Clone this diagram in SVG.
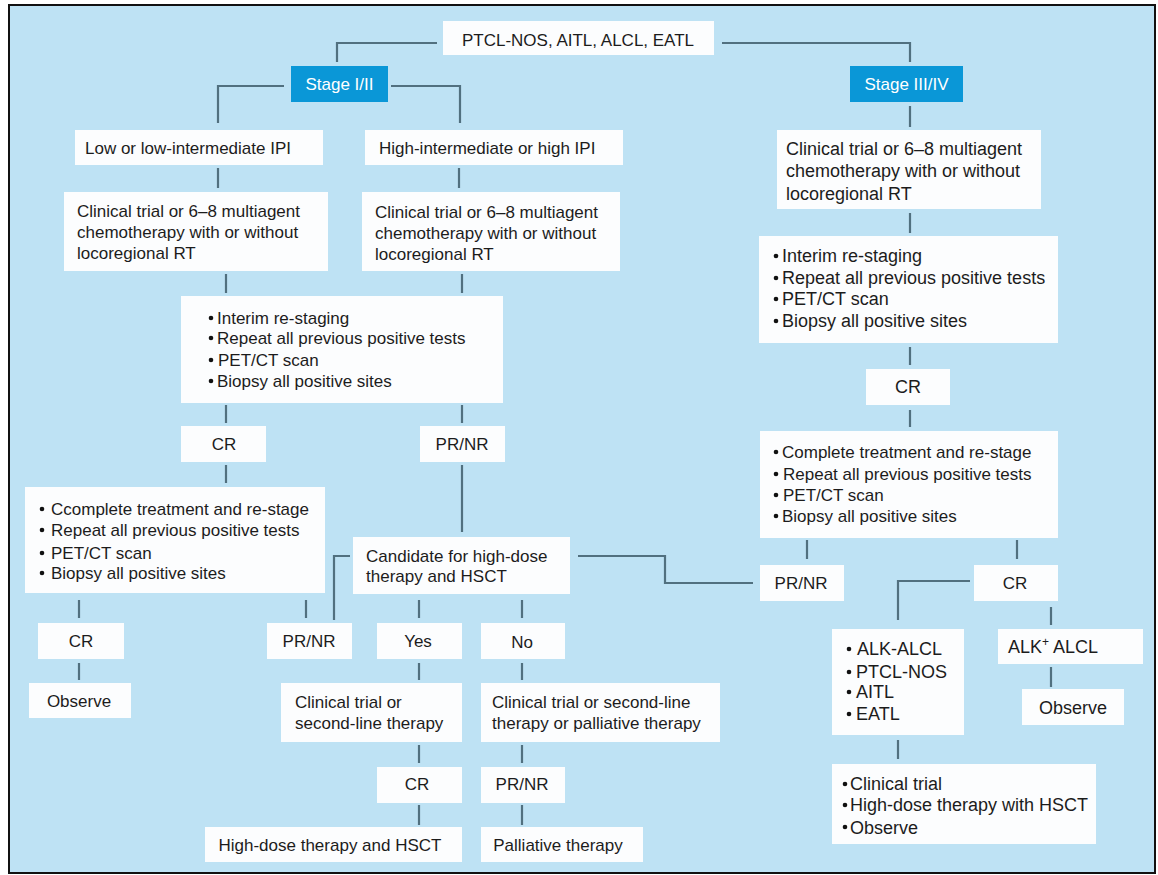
<svg xmlns="http://www.w3.org/2000/svg" width="1158" height="875" viewBox="0 0 1158 875">
<style>
.box{fill:#fcfdfe;}
.stage{fill:#0a97d7;}
.t{font-family:"Liberation Sans",Arial,sans-serif;font-size:17px;fill:#1c1c1c;}
.tl{font-family:"Liberation Sans",Arial,sans-serif;font-size:18px;fill:#1c1c1c;}
.tw{font-family:"Liberation Sans",Arial,sans-serif;font-size:17px;fill:#ffffff;}
.c{text-anchor:middle;}
.b{fill:#111;}
.con{fill:none;stroke:#51707f;stroke-width:2.2;}
</style>
<rect x="0" y="0" width="1158" height="875" fill="#ffffff"/>
<rect x="9" y="5" width="1146" height="868" fill="#bee2f4" stroke="#111" stroke-width="2"/>

<g id="connectors" class="con">
<path d="M437,43 H337 V62"/>
<path d="M722,43 H910 V62"/>
<path d="M284,86 H218 V123"/>
<path d="M391,86 H460 V123"/>
<path d="M910,106 V127"/>
<path d="M218,168 V188"/>
<path d="M459,168 V188"/>
<path d="M910,213 V233"/>
<path d="M226,274 V293"/>
<path d="M462,274 V293"/>
<path d="M910,347 V365"/>
<path d="M226,405 V423"/>
<path d="M462,405 V423"/>
<path d="M910,410 V427"/>
<path d="M226,465 V483"/>
<path d="M462,465 V532"/>
<path d="M350,556 H334 V620"/>
<path d="M578,556 H665 V583 H753"/>
<path d="M807,540 V559"/>
<path d="M1017,540 V559"/>
<path d="M970,581 H898 V620"/>
<path d="M1051,607 V625"/>
<path d="M1051,667 V687"/>
<path d="M898,740 V759"/>
<path d="M79,600 V618"/>
<path d="M306,600 V618"/>
<path d="M419,600 V618"/>
<path d="M522,600 V618"/>
<path d="M79,663 V680"/>
<path d="M419,663 V680"/>
<path d="M522,663 V680"/>
<path d="M419,745 V763"/>
<path d="M522,745 V763"/>
<path d="M419,805 V825"/>
<path d="M522,805 V825"/>
</g>

<g id="root"><rect class="box" x="443" y="21" width="271" height="34"/><text class="t c" x="578" y="46">PTCL-NOS, AITL, ALCL, EATL</text></g>
<g id="stage12"><rect class="stage" x="291" y="66" width="97" height="36"/><text class="tw c" x="339.5" y="90">Stage I/II</text></g>
<g id="stage34"><rect class="stage" x="850" y="66" width="113" height="36"/><text class="tw c" x="906.5" y="90">Stage III/IV</text></g>
<g id="lowipi"><rect class="box" x="75" y="130" width="248" height="35"/><text class="t" x="85" y="154">Low or low-intermediate IPI</text></g>
<g id="highipi"><rect class="box" x="365" y="130" width="258" height="35"/><text class="t" x="379" y="154">High-intermediate or high IPI</text></g>
<g id="chemoL"><rect class="box" x="64" y="192" width="264" height="79"/><text class="t" x="77" y="217">Clinical trial or 6–8 multiagent</text><text class="t" x="77" y="238">chemotherapy with or without</text><text class="t" x="77" y="259">locoregional RT</text></g>
<g id="chemoM"><rect class="box" x="362" y="192" width="258" height="79"/><text class="t" x="375" y="218">Clinical trial or 6–8 multiagent</text><text class="t" x="375" y="239">chemotherapy with or without</text><text class="t" x="375" y="260">locoregional RT</text></g>
<g id="chemoR"><rect class="box" x="777" y="130" width="264" height="79"/><text class="tl" x="786" y="155">Clinical trial or 6–8 multiagent</text><text class="tl" x="786" y="177">chemotherapy with or without</text><text class="tl" x="786" y="200">locoregional RT</text></g>
<g id="interimR"><rect class="box" x="759" y="236" width="299" height="107"/>
<circle class="b" cx="776" cy="256" r="2.3"/><circle class="b" cx="776" cy="278" r="2.3"/><circle class="b" cx="776" cy="299" r="2.3"/><circle class="b" cx="776" cy="321" r="2.3"/>
<text class="tl" x="782" y="262">Interim re-staging</text><text class="tl" x="782" y="284">Repeat all previous positive tests</text><text class="tl" x="782" y="305">PET/CT scan</text><text class="tl" x="782" y="327">Biopsy all positive sites</text></g>
<g id="interimM"><rect class="box" x="181" y="296" width="322" height="107"/>
<circle class="b" cx="211" cy="318" r="2.3"/><circle class="b" cx="211" cy="338" r="2.3"/><circle class="b" cx="211" cy="360" r="2.3"/><circle class="b" cx="211" cy="381" r="2.3"/>
<text class="t" x="217" y="324">Interim re-staging</text><text class="t" x="217" y="344">Repeat all previous positive tests</text><text class="t" x="218" y="366">PET/CT scan</text><text class="t" x="217" y="387">Biopsy all positive sites</text></g>
<g id="crL"><rect class="box" x="181" y="426" width="85" height="36"/><text class="t c" x="224" y="450">CR</text></g>
<g id="prnrL"><rect class="box" x="420" y="426" width="85" height="36"/><text class="t c" x="462" y="450">PR/NR</text></g>
<g id="crR1"><rect class="box" x="866" y="369" width="84" height="36"/><text class="tl c" x="908" y="393">CR</text></g>
<g id="completeR"><rect class="box" x="760" y="431" width="298" height="107"/>
<circle class="b" cx="776" cy="452" r="2.3"/><circle class="b" cx="776" cy="474" r="2.3"/><circle class="b" cx="776" cy="495" r="2.3"/><circle class="b" cx="776" cy="516" r="2.3"/>
<text class="t" x="782" y="458">Complete treatment and re-stage</text><text class="t" x="783" y="480">Repeat all previous positive tests</text><text class="t" x="783" y="501">PET/CT scan</text><text class="t" x="782" y="522">Biopsy all positive sites</text></g>
<g id="ccompleteL"><rect class="box" x="25" y="487" width="300" height="106"/>
<circle class="b" cx="42" cy="509" r="2.3"/><circle class="b" cx="42" cy="530" r="2.3"/><circle class="b" cx="42" cy="553" r="2.3"/><circle class="b" cx="42" cy="573" r="2.3"/>
<text class="t" x="51" y="515">Ccomplete treatment and re-stage</text><text class="t" x="51" y="536">Repeat all previous positive tests</text><text class="t" x="51" y="559">PET/CT scan</text><text class="t" x="51" y="579">Biopsy all positive sites</text></g>
<g id="candidate"><rect class="box" x="353" y="537" width="217" height="57"/><text class="t" x="366" y="562">Candidate for high-dose</text><text class="t" x="366" y="582">therapy and HSCT</text></g>
<g id="prnrR"><rect class="box" x="760" y="565" width="84" height="36"/><text class="t c" x="801" y="589">PR/NR</text></g>
<g id="crR2"><rect class="box" x="974" y="565" width="84" height="36"/><text class="t c" x="1015" y="589">CR</text></g>
<g id="crBL"><rect class="box" x="38" y="623" width="86" height="36"/><text class="t c" x="81" y="647">CR</text></g>
<g id="prnrM"><rect class="box" x="267" y="623" width="85" height="36"/><text class="t c" x="309" y="647">PR/NR</text></g>
<g id="yes"><rect class="box" x="377" y="623" width="85" height="36"/><text class="t c" x="418" y="647">Yes</text></g>
<g id="no"><rect class="box" x="481" y="623" width="84" height="36"/><text class="t c" x="522" y="648">No</text></g>
<g id="observeL"><rect class="box" x="29" y="683" width="102" height="35"/><text class="t c" x="79" y="707">Observe</text></g>
<g id="alkList"><rect class="box" x="832" y="629" width="132" height="106"/>
<circle class="b" cx="849" cy="649" r="2.3"/><circle class="b" cx="849" cy="672" r="2.3"/><circle class="b" cx="849" cy="692" r="2.3"/><circle class="b" cx="849" cy="714" r="2.3"/>
<text class="tl" x="857" y="655">ALK-ALCL</text><text class="tl" x="856" y="678">PTCL-NOS</text><text class="tl" x="856" y="698">AITL</text><text class="tl" x="856" y="720">EATL</text></g>
<g id="alkPos"><rect class="box" x="998" y="629" width="145" height="35"/><text class="tl" x="1008" y="653">ALK<tspan font-size="12" dy="-7">+</tspan><tspan dy="7"> ALCL</tspan></text></g>
<g id="observeR"><rect class="box" x="1022" y="689" width="102" height="36"/><text class="tl c" x="1073" y="714">Observe</text></g>
<g id="secondLine"><rect class="box" x="281" y="683" width="181" height="59"/><text class="t" x="295" y="708">Clinical trial or</text><text class="t" x="295" y="729">second-line therapy</text></g>
<g id="palliativeOpt"><rect class="box" x="481" y="683" width="239" height="59"/><text class="t" x="492" y="708">Clinical trial or second-line</text><text class="t" x="492" y="729">therapy or palliative therapy</text></g>
<g id="crMB"><rect class="box" x="377" y="767" width="85" height="36"/><text class="t c" x="417" y="790">CR</text></g>
<g id="prnrMB"><rect class="box" x="481" y="767" width="84" height="36"/><text class="t c" x="522" y="790">PR/NR</text></g>
<g id="hdHSCT"><rect class="box" x="205" y="827" width="257" height="35"/><text class="t c" x="330" y="851">High-dose therapy and HSCT</text></g>
<g id="palliative"><rect class="box" x="481" y="827" width="162" height="35"/><text class="t c" x="558" y="851">Palliative therapy</text></g>
<g id="finalR"><rect class="box" x="832" y="764" width="264" height="80"/>
<circle class="b" cx="845" cy="784" r="2.3"/><circle class="b" cx="845" cy="805" r="2.3"/><circle class="b" cx="845" cy="827" r="2.3"/>
<text class="tl" x="850" y="790">Clinical trial</text><text class="tl" x="850" y="811">High-dose therapy with HSCT</text><text class="tl" x="850" y="834">Observe</text></g>
</svg>
